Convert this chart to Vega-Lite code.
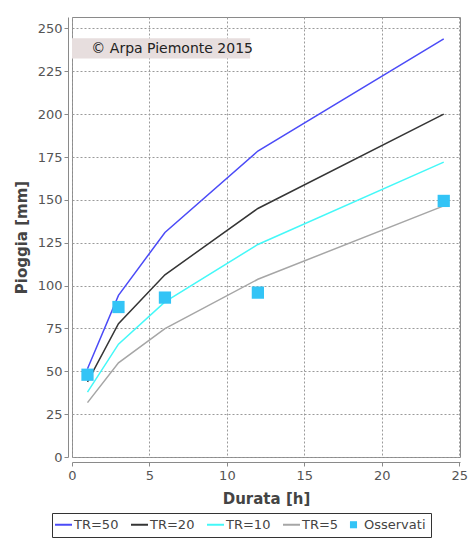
{
  "$schema": "https://vega.github.io/schema/vega-lite/v6.json",
  "width": 388,
  "height": 440,
  "autosize": "none",
  "padding": {"left": 72, "top": 17, "right": 8, "bottom": 83},
  "background": "white",
  "config": {
    "font": "DejaVu Sans",
    "view": {"stroke": "#8a8a8a", "strokeWidth": 1},
    "axis": {
      "gridColor": "#9a9a9a",
      "gridDash": [2, 2],
      "gridOpacity": 1,
      "gridWidth": 1,
      "domainColor": "#8a8a8a",
      "tickColor": "#8a8a8a",
      "tickSize": 4,
      "labelFlush": false,
      "labelColor": "#555555",
      "labelFontSize": 13,
      "labelFont": "DejaVu Sans",
      "titleColor": "#444444",
      "titleFontSize": 15,
      "titleFont": "DejaVu Sans",
      "titleFontWeight": "bold"
    }
  },
  "datasets": {
    "serie": [
      {"serie": "TR=50", "durata": 1, "pioggia": 51.5},
      {"serie": "TR=50", "durata": 3, "pioggia": 94.3},
      {"serie": "TR=50", "durata": 6, "pioggia": 131.0},
      {"serie": "TR=50", "durata": 12, "pioggia": 178.5},
      {"serie": "TR=50", "durata": 24, "pioggia": 244.0},
      {"serie": "TR=20", "durata": 1, "pioggia": 43.8},
      {"serie": "TR=20", "durata": 3, "pioggia": 77.8},
      {"serie": "TR=20", "durata": 6, "pioggia": 106.3},
      {"serie": "TR=20", "durata": 12, "pioggia": 145.0},
      {"serie": "TR=20", "durata": 24, "pioggia": 200.0},
      {"serie": "TR=10", "durata": 1, "pioggia": 37.9},
      {"serie": "TR=10", "durata": 3, "pioggia": 65.8},
      {"serie": "TR=10", "durata": 6, "pioggia": 90.5},
      {"serie": "TR=10", "durata": 12, "pioggia": 124.0},
      {"serie": "TR=10", "durata": 24, "pioggia": 172.0},
      {"serie": "TR=5", "durata": 1, "pioggia": 31.7},
      {"serie": "TR=5", "durata": 3, "pioggia": 54.9},
      {"serie": "TR=5", "durata": 6, "pioggia": 74.9},
      {"serie": "TR=5", "durata": 12, "pioggia": 103.7},
      {"serie": "TR=5", "durata": 24, "pioggia": 146.5},
      {"serie": "Osservati", "durata": 1, "pioggia": 48.0},
      {"serie": "Osservati", "durata": 3, "pioggia": 87.5},
      {"serie": "Osservati", "durata": 6, "pioggia": 93.0},
      {"serie": "Osservati", "durata": 12, "pioggia": 95.9},
      {"serie": "Osservati", "durata": 24, "pioggia": 149.4}
    ],
    "nota": [
      {"testo": "© Arpa Piemonte 2015", "x0": 0, "x1": 11.5, "y0": 232.5, "y1": 244.3, "xt": 1.25, "yt": 238.2}
    ]
  },
  "layer": [
    {
      "data": {"name": "nota"},
      "mark": {"type": "rect", "fill": "#e7dede", "stroke": null},
      "encoding": {
        "x": {"field": "x0", "type": "quantitative"},
        "x2": {"field": "x1"},
        "y": {"field": "y0", "type": "quantitative"},
        "y2": {"field": "y1"}
      }
    },
    {
      "data": {"name": "nota"},
      "mark": {"type": "text", "align": "left", "baseline": "middle", "fontSize": 14, "color": "#222222", "font": "DejaVu Sans"},
      "encoding": {
        "x": {"field": "xt", "type": "quantitative"},
        "y": {"field": "yt", "type": "quantitative"},
        "text": {"field": "testo"}
      }
    },
    {
      "data": {"name": "serie"},
      "transform": [{"filter": "datum.serie !== 'Osservati'"}],
      "mark": {"type": "line", "strokeWidth": 1.5},
      "encoding": {
        "x": {
          "field": "durata", "type": "quantitative",
          "scale": {"domain": [0, 25.05], "nice": false, "zero": false},
          "axis": {"title": "Durata [h]", "values": [0, 5, 10, 15, 20, 25], "offset": 5, "labelPadding": 3, "titlePadding": 9}
        },
        "y": {
          "field": "pioggia", "type": "quantitative",
          "scale": {"domain": [0, 256.7], "nice": false},
          "axis": {"title": "Pioggia [mm]", "values": [0, 25, 50, 75, 100, 125, 150, 175, 200, 225, 250], "offset": 4, "labelPadding": 2, "titlePadding": 8}
        },
        "color": {
          "field": "serie", "type": "nominal",
          "scale": {
            "domain": ["TR=50", "TR=20", "TR=10", "TR=5", "Osservati"],
            "range": ["#4b4bf7", "#353535", "#44f8f8", "#a6a6a6", "#33c4f6"]
          },
          "legend": {
            "title": null,
            "orient": "none",
            "legendX": -20,
            "legendY": 496,
            "direction": "horizontal",
            "columns": 5,
            "strokeColor": "#333333",
            "padding": 5,
            "labelFontSize": 13,
            "labelColor": "#444444",
            "labelFont": "DejaVu Sans",
            "columnPadding": 8,
            "labelOffset": 4,
            "symbolStrokeWidth": 2,
            "encode": {
              "symbols": {
                "update": {
                  "shape": {"signal": "datum.value === 'Osservati' ? 'square' : 'stroke'"},
                  "size": {"signal": "datum.value === 'Osservati' ? 50 : 289"},
                  "fill": {"signal": "datum.value === 'Osservati' ? '#33c4f6' : 'transparent'"},
                  "strokeWidth": {"signal": "datum.value === 'Osservati' ? 0 : 2"}
                }
              }
            }
          }
        },
        "order": {"field": "durata", "type": "quantitative"}
      }
    },
    {
      "data": {"name": "serie"},
      "transform": [{"filter": "datum.serie === 'Osservati'"}],
      "mark": {"type": "square", "size": 150, "opacity": 1, "filled": true},
      "encoding": {
        "x": {"field": "durata", "type": "quantitative"},
        "y": {"field": "pioggia", "type": "quantitative"},
        "color": {"field": "serie", "type": "nominal"}
      }
    }
  ]
}
